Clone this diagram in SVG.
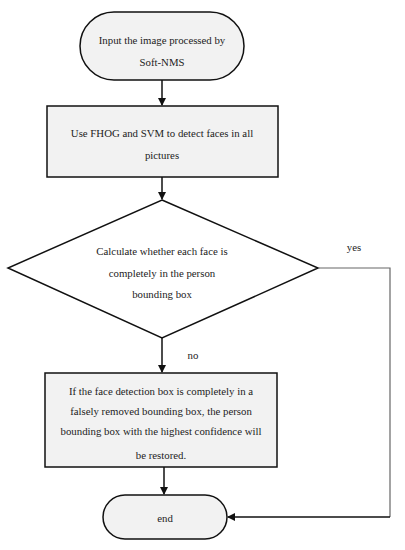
<svg xmlns="http://www.w3.org/2000/svg" width="405" height="550" viewBox="0 0 405 550">
<style>
.n{fill:#f2f2f2;stroke:#111;stroke-width:1.5}
.d{fill:#fff;stroke:#111;stroke-width:1.5}
.t{font-family:"Liberation Serif","DejaVu Serif",serif;font-size:10.8px;fill:#222;text-anchor:middle}
.c{fill:none;stroke:#111;stroke-width:1.5}
.g{fill:none;stroke:#666;stroke-width:1.2}
</style>
<defs>
<marker id="a" markerWidth="8" markerHeight="8" refX="7" refY="4" orient="auto" markerUnits="userSpaceOnUse">
<path d="M0,0 L8,4 L0,8 Z" fill="#111"/>
</marker>
</defs>
<g id="start">
<rect class="n" x="80" y="12" width="164" height="68" rx="34" ry="34"/>
<text class="t" x="162" y="44">Input the image processed by</text>
<text class="t" x="162" y="66">Soft-NMS</text>
</g>
<g id="detect">
<rect class="n" x="47" y="106" width="231" height="71"/>
<text class="t" x="162" y="137">Use FHOG and SVM to detect faces in all</text>
<text class="t" x="162" y="159">pictures</text>
</g>
<g id="decision">
<polygon class="d" points="162,200 318,268 162,338 8,268"/>
<text class="t" x="162" y="255">Calculate whether each face is</text>
<text class="t" x="162" y="277">completely in the person</text>
<text class="t" x="162" y="298">bounding box</text>
</g>
<g id="restore">
<rect class="n" x="45" y="373" width="232" height="94"/>
<text class="t" x="161" y="395">If the face detection box is completely in a</text>
<text class="t" x="161" y="415">falsely removed bounding box, the person</text>
<text class="t" x="161" y="435">bounding box with the highest confidence will</text>
<text class="t" x="161" y="459">be restored.</text>
</g>
<g id="end">
<rect class="n" x="103" y="495" width="124" height="44" rx="22" ry="22"/>
<text class="t" x="165" y="522">end</text>
</g>
<g id="connectors">
<line class="c" x1="162" y1="80" x2="162" y2="105" marker-end="url(#a)"/>
<line class="c" x1="162" y1="177" x2="162" y2="199" marker-end="url(#a)"/>
<line class="c" x1="162" y1="338" x2="162" y2="372" marker-end="url(#a)"/>
<line class="c" x1="164" y1="467" x2="164" y2="494" marker-end="url(#a)"/>
<polyline class="g" points="318,268 390,268 390,517"/>
<line class="c" x1="390" y1="517" x2="228" y2="517" marker-end="url(#a)"/>
<text class="t" x="354" y="251">yes</text>
<text class="t" x="193" y="359">no</text>
</g>
</svg>
